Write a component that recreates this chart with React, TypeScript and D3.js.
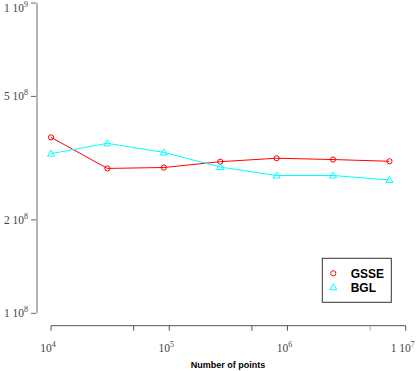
import React from "react";
import * as d3 from "d3";

const points = [1e4, 3e4, 9e4, 2.7e5, 8.1e5, 2.43e6, 7.29e6];
const gsse = [3.69e8, 2.93e8, 2.95e8, 3.08e8, 3.16e8, 3.13e8, 3.09e8];
const bgl = [3.27e8, 3.53e8, 3.3e8, 2.96e8, 2.78e8, 2.78e8, 2.69e8];

const xMajorTicks = [1e4, 1e5, 1e6, 1e7];
const xMajorLabels = [["", "10", "4"], ["", "10", "5"], ["", "10", "6"], ["1 ", "10", "7"]];
const xMinorTicks = [5e4, 5e5, 5e6];
const yTicks = [1e9, 5e8, 2e8, 1e8];
const yLabels = [["1 ", "10", "9"], ["5 ", "10", "8"], ["2 ", "10", "8"], ["1 ", "10", "8"]];
const seriesNames = ["GSSE", "BGL"];

export default function App() {
  const W = 420, H = 371;
  const x = d3.scaleLog().domain([1e4, 1e7]).range([51, 405.7]);
  const y = d3.scaleLog().domain([1e8, 1e9]).range([313.3, 3]);
  const line = d3.line<[number, number]>().x(d => x(d[0])).y(d => y(d[1]));
  const gData: [number, number][] = points.map((p, i) => [p, gsse[i]]);
  const bData: [number, number][] = points.map((p, i) => [p, bgl[i]]);
  const tri = (cx: number, cy: number) => `M${cx},${cy - 3.5}L${cx + 3.5},${cy + 2.5}L${cx - 3.5},${cy + 2.5}Z`;
  const serif = "'Liberation Serif', 'DejaVu Serif', serif";
  const sans = "'Liberation Sans', Arial, sans-serif";
  const axisY = 325.7;
  const axisX = 37;

  return (
    <svg width={W} height={H} style={{ position: "absolute", left: 0, top: 0, background: "#fff" }}>
      {/* y axis */}
      <line x1={axisX} x2={axisX} y1={y(1e9)} y2={y(1e8)} stroke="#b4b4b4" strokeWidth={2} />
      {yTicks.map((t, i) => (
        <g key={"yt" + i}>
          <line x1={31} x2={axisX - 1} y1={y(t)} y2={y(t)} stroke="#666" strokeWidth={1} />
          <text x={28} y={Math.max(y(t) + 4, 11.5)} textAnchor="end" fontFamily={serif} fontSize={11.5} fill="#444">
            {yLabels[i][0]}{yLabels[i][1]}
            <tspan fontSize={8} dy={-5}>{yLabels[i][2]}</tspan>
          </text>
        </g>
      ))}
      {/* x axis */}
      <line x1={x(1e4)} x2={x(1e7)} y1={axisY} y2={axisY} stroke="#555" strokeWidth={1} />
      {xMajorTicks.map((t, i) => (
        <g key={"xt" + i}>
          <line x1={x(t)} x2={x(t)} y1={axisY} y2={axisY + 5} stroke="#555" strokeWidth={1} />
          <text x={x(t) - 3} y={351.5} textAnchor="middle" fontFamily={serif} fontSize={11.5} fill="#444">
            {xMajorLabels[i][0]}{xMajorLabels[i][1]}
            <tspan fontSize={8} dy={-5}>{xMajorLabels[i][2]}</tspan>
          </text>
        </g>
      ))}
      {xMinorTicks.map((t, i) => (
        <line key={"xm" + i} x1={x(t)} x2={x(t)} y1={axisY} y2={axisY + 5} stroke={i === 2 ? "#aaa" : "#555"} strokeWidth={1} />
      ))}
      <text x={228} y={368} textAnchor="middle" fontFamily={sans} fontWeight="bold" fontSize={9} fill="#000">
        Number of points
      </text>
      {/* series */}
      <path d={line(gData) || ""} fill="none" stroke="#ff0000" strokeWidth={1} />
      <path d={line(bData) || ""} fill="none" stroke="#00ffff" strokeWidth={1} />
      {gData.map((d, i) => (
        <circle key={"g" + i} cx={x(d[0])} cy={y(d[1])} r={2.6} fill="none" stroke="#ff0000" strokeWidth={1} />
      ))}
      {bData.map((d, i) => (
        <path key={"b" + i} d={tri(x(d[0]), y(d[1]))} fill="none" stroke="#00ffff" strokeWidth={1} />
      ))}
      {/* legend */}
      <rect x={322.3} y={258.3} width={69} height={44} fill="#fff" stroke="#333" strokeWidth={1} />
      <circle cx={333.3} cy={273.3} r={2.6} fill="none" stroke="#ff0000" strokeWidth={1} />
      <path d={tri(333.3, 287.3)} fill="none" stroke="#00ffff" strokeWidth={1} />
      <text x={350.7} y={277.7} fontFamily={sans} fontWeight="bold" fontSize={12} fill="#000">{seriesNames[0]}</text>
      <text x={350.7} y={291.7} fontFamily={sans} fontWeight="bold" fontSize={12} fill="#000">{seriesNames[1]}</text>
    </svg>
  );
}
